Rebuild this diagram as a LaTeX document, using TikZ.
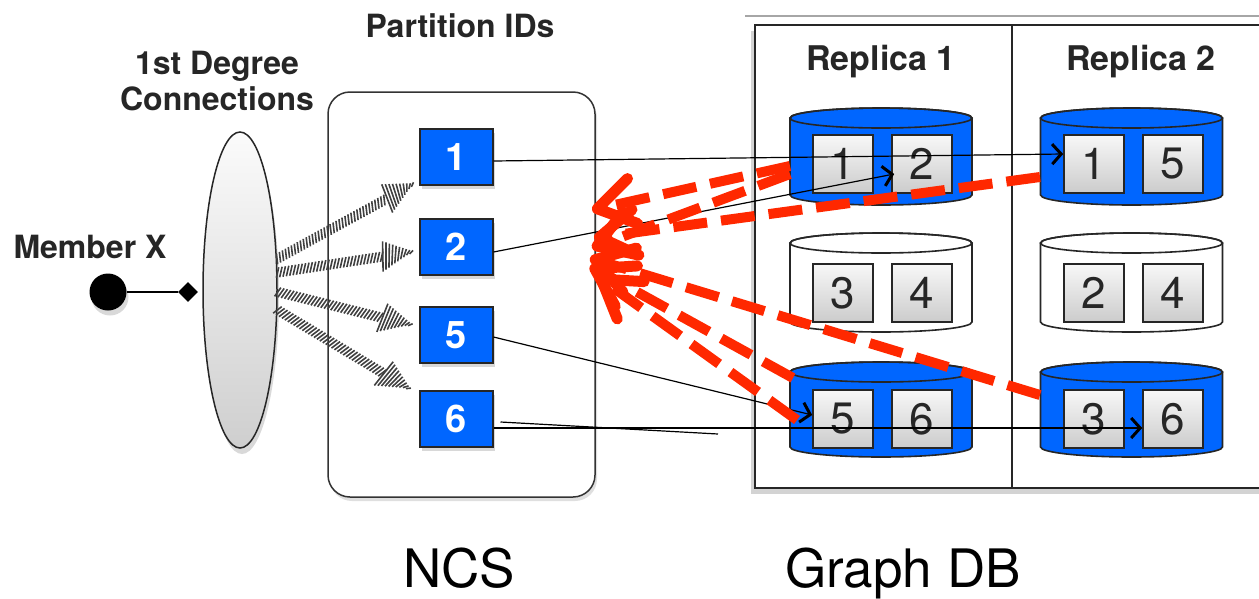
\documentclass[tikz,border=0pt]{standalone}
\usepackage{fontspec}
\setmainfont{TeX Gyre Heros}
\usetikzlibrary{shapes.geometric,arrows.meta,calc,shadows,decorations.markings}
\definecolor{dbblue}{RGB}{0,102,255}
\definecolor{redd}{RGB}{255,40,0}
\newcommand{\fsz}[1]{\fontsize{#1}{#1}\selectfont}
\tikzset{
  lbl/.style={font=\bfseries\fsz{32}, anchor=base, text=black!85},
  biglbl/.style={font=\fsz{53}, anchor=base, text=black, inner sep=0pt},
  bluebox/.style={draw=black!85, line width=2pt, fill=dbblue, minimum width=73pt, minimum height=56pt, inner sep=0pt, text=white, font=\bfseries\fsz{38}, drop shadow={shadow xshift=2pt, shadow yshift=-4pt, opacity=0.3}},
  sq/.style={draw=black!85, line width=1.6pt, top color=gray!6, bottom color=gray!40, minimum width=60pt, minimum height=58pt, inner sep=0pt, font=\fsz{44}, text=black!85},
  blk/.style={line width=1.2pt, -{Straight Barb[length=9pt, width=20pt, line width=3pt]}},
  reddash/.style={draw=redd, line width=10pt, dash pattern=on 34pt off 14pt, -{Straight Barb[length=36pt, width=46pt, line width=11pt, round]}},
  hatchstroke/.style={line width=1.6pt, draw=black!75},
}
\newcommand{\dbcyl}[5]{%
  \filldraw[fill=#5, draw=black!85, line width=1.6pt] (#2-91,#3) -- (#2-91,#4) arc[start angle=180, end angle=360, x radius=91pt, y radius=10pt] -- (#2+91,#3) arc[start angle=0, end angle=180, x radius=91pt, y radius=10pt] -- cycle;
  \draw[black!85, line width=1.6pt] (#2,#3) ellipse[x radius=91pt, y radius=10pt];
  \coordinate (#1) at (#2,{(#3+#4)/2});
}
\newcommand{\hatcharrow}[2]{%
  \path[postaction={decorate}, decoration={markings, mark=between positions 0 and 1 step 3.4pt with {\draw[hatchstroke] (-2pt,-5pt) -- (2pt,5pt);}}] (#1) -- ($(#2)!30pt!(#1)$);
  \path[postaction={decorate}, decoration={markings, mark=between positions 0 and 1 step 3.2pt with {\pgfmathsetmacro\hl{max(1.5,15*(1-\pgfkeysvalueof{/pgf/decoration/mark info/distance from start}/30))}\draw[hatchstroke] (-2pt,-\hl pt) -- (2pt,\hl pt);}}] ($(#2)!30pt!(#1)$) -- (#2);
}
\begin{document}
\begin{tikzpicture}[x=1pt,y=-1pt]
\path[use as bounding box] (0,0) rectangle (1259,598);
\clip (0,0) rectangle (1259,598);

% Graph DB frame
\draw[gray!70, line width=1.5pt] (745,16) -- (1259,16);
\node[draw=black!85, line width=2.5pt, fill=white, minimum width=520pt, minimum height=463pt, inner sep=0pt, drop shadow={shadow xshift=-4pt, shadow yshift=-6pt, opacity=0.35}] (gdb) at (1015,256.5) {};
\draw[black!85, line width=1.5pt] (1012,25) -- (1012,488);
\node[lbl, font=\bfseries\fsz{34}] (rep1) at (881,70) {Replica 1};
\node[lbl, font=\bfseries\fsz{34}] (rep2) at (1141,70) {Replica 2};

% cylinders
\dbcyl{c1t}{881}{118}{195}{dbblue}
\dbcyl{c1m}{881}{243}{322}{white}
\dbcyl{c1b}{881}{372}{447}{dbblue}
\dbcyl{c2t}{1131.5}{118}{195}{dbblue}
\dbcyl{c2m}{1131.5}{243}{322}{white}
\dbcyl{c2b}{1131.5}{372}{447}{dbblue}

\node[sq] (s11) at (843,164) {1};
\node[sq] (s12) at (922,164) {2};
\node[sq] (s21) at (1094,164) {1};
\node[sq] (s22) at (1173,164) {5};
\node[sq] (s31) at (843,293) {3};
\node[sq] (s32) at (922,293) {4};
\node[sq] (s41) at (1094,293) {2};
\node[sq] (s42) at (1173,293) {4};
\node[sq] (s51) at (843,419) {5};
\node[sq] (s52) at (922,419) {6};
\node[sq] (s61) at (1094,419) {3};
\node[sq] (s62) at (1173,419) {6};

% NCS box
\node[draw=black!80, line width=1.5pt, rounded corners=22pt, minimum width=267pt, minimum height=405pt, inner sep=0pt, fill=white, drop shadow={shadow xshift=2pt, shadow yshift=-4pt, opacity=0.25}] (ncs) at (461.5,294.5) {};
\node[lbl] (pid) at (460,37) {Partition IDs};
\node[bluebox] (b1) at (456,157) {1};
\node[bluebox] (b2) at (456,247) {2};
\node[bluebox] (b5) at (456,335) {5};
\node[bluebox] (b6) at (456,419) {6};

% member and connections
\node[lbl, align=center, font=\bfseries\fontsize{32}{36}\selectfont] (deg) at (217,110) {1st Degree\\Connections};
\node[lbl] (mxl) at (90,258) {Member X};
\node[ellipse, draw=black!85, line width=1.5pt, minimum width=74pt, minimum height=316pt, inner sep=0pt, top color=gray!3, bottom color=gray!38, drop shadow={shadow xshift=2pt, shadow yshift=-6pt, opacity=0.3}] (ell) at (240,290) {};
\node[circle, fill=black, minimum size=37pt, inner sep=0pt, drop shadow={shadow xshift=2pt, shadow yshift=-5pt, opacity=0.3}] (mx) at (108,292) {};
\node[diamond, fill=black, minimum size=20pt, inner sep=0pt] (dia) at (188,292) {};
\draw[line width=1.3pt] (mx) -- (dia);

% hatched arrows
\coordinate (h1) at ($(b1.south west)+(-5,-2)$);
\coordinate (h2) at ($(b2.west)+(-6,5)$);
\coordinate (h3) at ($(b5.west)+(-7,-10)$);
\coordinate (h4) at ($(b6.north west)+(-9,-1)$);
\hatcharrow{ell.40}{h1}
\hatcharrow{ell.25}{h2}
\hatcharrow{ell.-3}{h3}
\hatcharrow{ell.-28}{h4}

% black arrows
\draw[blk] ($(b1.east)+(0,4)$) -- ($(s21.west)+(0,-10)$);
\draw[blk] ($(b2.east)+(0,5)$) -- ($(s12.west)+(3,10)$);
\draw[blk] ($(b5.east)+(0,2)$) -- ($(s51.west)+(0,-4)$);
\draw[blk] ($(b6.east)+(0,9)$) -- ($(s62.west)+(0,9)$);
\coordinate (stray) at (718,434);
\draw[line width=1.2pt] ($(b6.east)+(7,3)$) -- (stray);

% red dashed arrows
\coordinate (t1) at (592,210);
\coordinate (t2) at (594,238);
\coordinate (t3) at (592,248);
\coordinate (t4) at (590,258);
\coordinate (t5) at (590,266);
\coordinate (t6) at (597,276);
\draw[reddash] ($(c1t)+(-91,9.5)$) -- (t1);
\draw[reddash] ($(c1t)+(-91,17.5)$) -- (t3);
\draw[reddash] ($(c2t)+(-91.5,20.5)$) -- (t2);
\draw[reddash] ($(c2b)+(-91.5,-14.5)$) -- (t4);
\draw[reddash] ($(c1b)+(-88,-31.5)$) -- (t5);
\draw[reddash] ($(c1b)+(-84,10.5)$) -- (t6);

% bottom labels
\node[biglbl] (ncsl) at (459,587) {NCS};
\node[biglbl] (gdbl) at (903,587) {Graph DB};
\end{tikzpicture}
\end{document}
